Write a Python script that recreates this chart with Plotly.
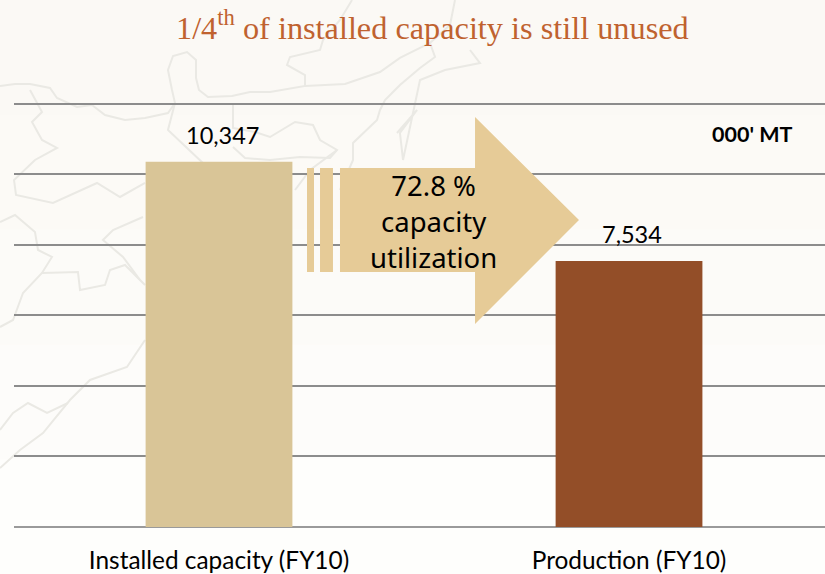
import plotly.graph_objects as go

categories = ["Installed capacity (FY10)", "Production (FY10)"]
values = [10347, 7534]
value_labels = ["10,347", "7,534"]
bar_colors = ["#D9C597", "#934E28"]
y_ticks = [0, 2000, 4000, 6000, 8000, 10000, 12000]

W, H = 825, 574
def X(p): return p / W
def Y(p): return 1 - p / H
def poly(pts, close=False):
    s = "M " + " L ".join(f"{X(a):.4f} {Y(b):.4f}" for a, b in pts)
    return s + (" Z" if close else "")

map_lines = [
    [(0,86),(15,84),(30,84),(50,88),(57,98),(77,107),(92,105),(105,115),(125,120),(145,118),(168,113),(175,103),(172,90),(168,70),(173,56),(187,52),(196,60),(196,78),(199,90),(208,97),(232,96),(250,92),(270,92),(305,86),(305,75),(287,65),(290,57),(320,50),(323,40),(340,20),(352,0)],
    [(233,103),(233,128),(255,132),(270,137),(295,122),(313,125),(320,140),(337,150),(330,158),(300,157),(270,160),(245,158),(233,147)],
    [(30,90),(42,112),(32,122),(42,140),(57,148),(35,160),(14,180),(16,195),(53,203),(97,183),(120,197),(145,183)],
    [(0,222),(15,215),(35,232),(38,250),(52,257),(42,273),(23,293),(13,320),(0,327)],
    [(42,273),(78,272),(80,290),(105,285),(110,270),(125,265),(145,285)],
    [(143,217),(113,230),(103,240),(123,257),(140,280)],
    [(145,340),(127,367),(90,380),(70,400),(43,433),(20,450),(0,468)],
    [(0,430),(13,413),(28,403),(47,413),(68,403)],
    [(175,103),(168,130),(205,165)],
    [(305,86),(345,84),(380,72),(400,58),(430,43),(450,25),(455,0)],
    [(430,43),(435,57),(420,68),(400,85),(385,100),(380,110),(377,120),(353,143),(353,160),(340,190)],
    [(397,133),(417,110),(400,133),(403,160),(420,80),(445,70),(480,63),(470,50)],
    [(295,190),(310,170),(337,150)],
]

fig = go.Figure(go.Bar(
    x=categories, y=values, marker=dict(color=bar_colors, line=dict(width=0)),
    width=0.358, hoverinfo="skip",
))

shapes = []
for i, c in enumerate(["#FBF9F5", "#FCFAF6", "#FCFBF8", "#FDFCFA", "#FEFEFC"]):
    shapes.append(dict(type="rect", xref="paper", yref="paper", x0=0, x1=1,
                       y0=1 - (i + 1) / 5, y1=1 - i / 5, fillcolor=c,
                       line=dict(width=0), layer="below"))
for pts in map_lines:
    shapes.append(dict(type="path", xref="paper", yref="paper", path=poly(pts),
                       line=dict(color="#EAE9E4", width=2), layer="below"))
arrow = "#E6CB97"
for pts in [
    [(307,168),(314,168),(314,272),(307,272)],
    [(320,168),(333,168),(333,272),(320,272)],
    [(340,168),(475,168),(475,117),(579,220),(475,324),(475,272),(340,272)],
]:
    shapes.append(dict(type="path", xref="paper", yref="paper", path=poly(pts, True),
                       fillcolor=arrow, line=dict(width=0), layer="above"))

ann = [
    dict(x=X(432), y=Y(26), xref="paper", yref="paper", showarrow=False, yanchor="middle", xanchor="center",
         text="1/4<sup>th</sup> of installed capacity is still unused",
         font=dict(family="Liberation Serif", size=32.3, color="#C0622F")),
    dict(x=X(752), y=Y(134), xref="paper", yref="paper", showarrow=False, yanchor="middle", xanchor="center",
         text="<b>000' MT</b>", font=dict(family="Lato", size=21.5, color="#000")),
    dict(x=X(433), y=Y(222), xref="paper", yref="paper", showarrow=False, yanchor="middle", xanchor="center",
         text="72.8 %<br>capacity<br>utilization",
         font=dict(family="Noto Sans", size=27.5, color="#000")),
]
for c, v, t in zip(categories, values, value_labels):
    ann.append(dict(x=c, y=v, xref="x", yref="y", text=t, showarrow=False, yanchor="middle",
                    yshift=27, xshift=3, font=dict(family="Lato", size=23.5, color="#000")))

top_value = 12600
top_px = 527 - top_value * (527 - 103.5) / 12000

fig.update_layout(
    width=W, height=H, autosize=False, showlegend=False,
    margin=dict(l=0, r=0, t=0, b=0), paper_bgcolor="#FCFAF6", plot_bgcolor="rgba(0,0,0,0)",
    shapes=shapes, annotations=ann,
    xaxis=dict(domain=[X(14), 1], range=[-0.5, 1.478], type="category", automargin=False,
               showgrid=False, zeroline=False, showline=False,
               ticks="outside", ticklen=12, tickcolor="rgba(0,0,0,0)",
               tickfont=dict(family="Lato", size=24.4, color="#000")),
    yaxis=dict(domain=[Y(527), Y(top_px)], range=[0, top_value], tickvals=y_ticks, automargin=False,
               showticklabels=False, ticks="", showgrid=True, gridcolor="#8C8C8C",
               gridwidth=2, zeroline=True, zerolinecolor="#9A9A9A", zerolinewidth=2,
               showline=False),
    font=dict(family="Lato"),
)
fig.write_html("out.html", config={"displayModeBar": False},
               post_script="document.body.style.margin='0';document.documentElement.style.overflow='hidden';")
